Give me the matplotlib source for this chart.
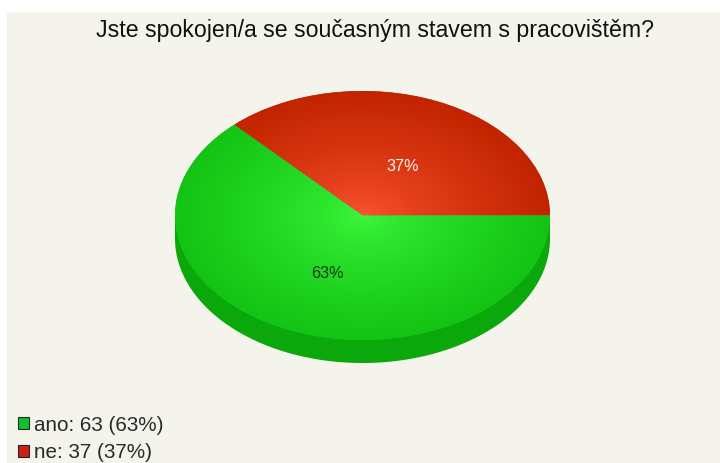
import numpy as np
import matplotlib.pyplot as plt
from matplotlib.colors import to_rgb
from matplotlib.patches import Patch, Rectangle

plt.rcParams['font.family'] = ['Liberation Sans', 'DejaVu Sans']

title = 'Jste spokojen/a se současným stavem s pracovištěm?'
labels = ['ne', 'ano']
counts = [37, 63]
total = sum(counts)

W, H = 720, 463
BG = '#f4f3ec'

# centre colour, rim colour, side wall colour
shades = {
    'ne': ('#ff5533', '#c22400', '#a81e00'),
    'ano': ('#3df83d', '#14c414', '#0aa80a'),
}
legend_colors = {'ano': '#10c030', 'ne': '#cc2010'}
text_colors = {'ne': '#fff4ee', 'ano': '#0c3a0c'}


def radial_image(inner, rim, n=400):
    x = np.linspace(-1, 1, n)
    xx, yy = np.meshgrid(x, x)
    r = np.clip(np.hypot(xx, yy), 0, 1)[..., None] ** 0.7
    return np.array(to_rgb(inner)) * (1 - r) + np.array(to_rgb(rim)) * r


fig = plt.figure(figsize=(W / 100, H / 100), dpi=100, facecolor='white')
fig.add_artist(Rectangle((7 / W, 0), 1, 1 - 12 / H, transform=fig.transFigure,
                         facecolor=BG, edgecolor='none', zorder=-5))

# pie top is squashed by using a non-equal axes box
cx, cy, rx, ry, depth = 362.5, 215.5, 187.5, 124.5, 23
ax = fig.add_axes([(cx - rx) / W, 1 - (cy + ry) / H, 2 * rx / W, 2 * ry / H])
ax.patch.set_visible(False)

wedges, _ = ax.pie(counts, startangle=0, counterclock=True, radius=1,
                   colors=[shades[k][1] for k in labels],
                   wedgeprops={'linewidth': 0})
ax.set_aspect('auto')
ax.set_axis_off()

# side wall: a shifted half disc plus the band joining it to the top
d = depth / ry
wall = shades['ano'][2]
ax.fill_between([-1, 1], [-d, -d], [0, 0], color=wall, lw=0, clip_on=False, zorder=1)
th = np.linspace(np.pi, 2 * np.pi, 400)
ax.fill(np.cos(th), np.sin(th) - d, color=wall, lw=0, clip_on=False, zorder=1)

for wedge, key in zip(wedges, labels):
    wedge.set_zorder(2)
    im = ax.imshow(radial_image(shades[key][0], shades[key][1]),
                   extent=(-1, 1, -1, 1), origin='lower', aspect='auto',
                   interpolation='bilinear', zorder=3)
    im.set_clip_path(wedge)
ax.set_xlim(-1, 1)
ax.set_ylim(-1, 1)

# percent labels sit at the mid-angle of each slice
start = 0.0
for value, key in zip(counts, labels):
    mid = np.deg2rad(start + value / total * 180)
    start += value / total * 360
    ax.text(0.5 * np.cos(mid) + 2.5 / rx, 0.468 * np.sin(mid) - 4.5 / ry,
            f'{value / total * 100:.0f}%', ha='center', va='center',
            fontsize=11.6, color=text_colors[key], zorder=5)

fig.text(375 / W, 1 - 30 / H, title, ha='center', va='center', fontsize=16.7, color='#111111')

order = ['ano', 'ne']
handles = [Patch(facecolor=legend_colors[k], edgecolor='#222222', linewidth=0.8) for k in order]
names = [f'{k}: {counts[labels.index(k)]} ({counts[labels.index(k)] / total * 100:.0f}%)' for k in order]
leg = fig.legend(handles, names, loc='lower left', bbox_to_anchor=(18 / W, 1 / H),
                 frameon=False, fontsize=14.9, handlelength=0.53, handleheight=0.53,
                 handletextpad=0.25, labelspacing=0.4, borderpad=0, borderaxespad=0)
for t in leg.get_texts():
    t.set_color('#2a2a2a')

fig.savefig('out.png', dpi=100, facecolor=fig.get_facecolor())
